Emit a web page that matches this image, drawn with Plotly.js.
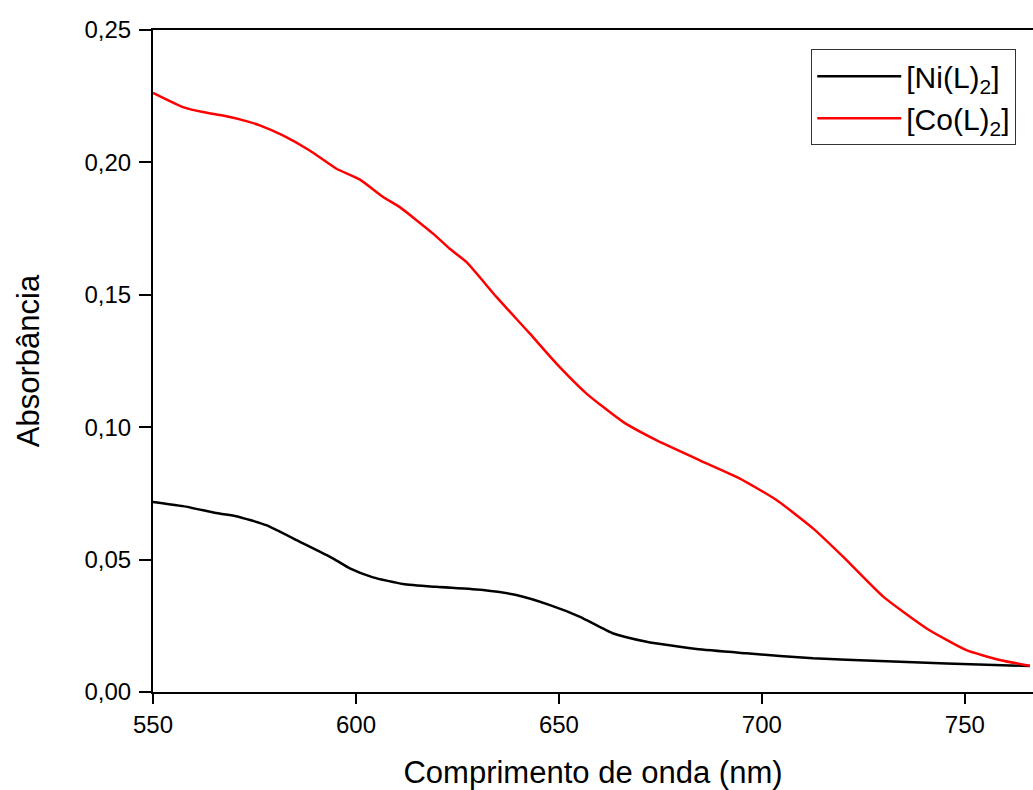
<!DOCTYPE html>
<html>
<head>
<meta charset="utf-8">
<script src="https://cdn.plot.ly/plotly-3.0.1.min.js"></script>
<style>html,body{margin:0;padding:0;background:#fff;}#chart{width:1033px;height:790px;}</style>
</head>
<body>
<div id="chart"></div>
<script>
// Wavelength (nm) and absorbance values
var coWavelength = [550, 557.4, 562.3, 568.1, 573, 576.3, 582, 588.6, 595.2, 601, 606.7, 610.8, 619, 623.1, 627.2, 634.6, 642.8, 649.4, 656.8, 665.8, 674, 684.7, 694.6, 703.6, 712.6, 720, 729.9, 740.6, 750.4, 758.6, 766];
var coAbs = [0.2263, 0.2209, 0.2190, 0.2174, 0.2156, 0.2140, 0.2102, 0.2045, 0.1976, 0.1935, 0.1869, 0.1831, 0.1731, 0.1674, 0.1624, 0.1492, 0.1354, 0.1240, 0.1127, 0.1020, 0.0951, 0.0875, 0.0806, 0.0725, 0.0618, 0.0511, 0.0360, 0.0240, 0.0158, 0.0121, 0.0099];

var niWavelength = [550, 557.4, 566.4, 570.5, 577.9, 586.2, 594.4, 598.5, 604.2, 611.6, 619.8, 631.3, 639.5, 647.8, 655.2, 663.4, 671.6, 683.9, 696.2, 712.6, 729.1, 745.5, 766];
var niAbs = [0.0718, 0.0702, 0.0674, 0.0664, 0.0630, 0.0567, 0.0504, 0.0467, 0.0433, 0.0408, 0.0397, 0.0385, 0.0366, 0.0328, 0.0284, 0.0221, 0.0190, 0.0162, 0.0146, 0.0127, 0.0117, 0.0108, 0.0098];

var seriesNames = ['[Ni(L)<sub>2</sub>]', '[Co(L)<sub>2</sub>]'];
var xTickVals = [550, 600, 650, 700, 750];
var yTickVals = [0, 0.05, 0.10, 0.15, 0.20, 0.25];

var traces = [
  {x: niWavelength, y: niAbs, mode: 'lines', name: seriesNames[0], line: {color: '#000000', width: 2.5, shape: 'spline', smoothing: 0.5}},
  {x: coWavelength, y: coAbs, mode: 'lines', name: seriesNames[1], line: {color: '#ff0000', width: 2.5, shape: 'spline', smoothing: 0.5}}
];

var font = 'Liberation Sans, Arial, sans-serif';
var layout = {
  width: 1033, height: 790,
  paper_bgcolor: '#ffffff', plot_bgcolor: '#ffffff',
  separators: ',.',
  margin: {l: 153, r: 0, t: 30, b: 98},
  showlegend: true,
  hovermode: false,
  font: {family: font, color: '#000000', size: 24},
  xaxis: {
    range: [550, 766.8], tickvals: xTickVals, ticktext: xTickVals.map(String),
    showgrid: false, zeroline: false, automargin: false,
    showline: true, linecolor: '#000', linewidth: 2, mirror: true,
    ticks: 'outside', ticklen: 10, tickwidth: 2, tickcolor: '#000',
    tickfont: {family: font, size: 24, color: '#000'},
    title: {text: 'Comprimento de onda (nm)', font: {family: font, size: 31, color: '#000'}, standoff: 25}
  },
  yaxis: {
    range: [0, 0.25], tickvals: yTickVals, tickformat: '.2f',
    showgrid: false, zeroline: false, automargin: false,
    showline: true, linecolor: '#000', linewidth: 2, mirror: false,
    ticks: 'outside', ticklen: 12, tickwidth: 2, tickcolor: '#000',
    tickfont: {family: font, size: 24, color: '#000'},
    ticklabelstandoff: 3,
    title: {text: 'Absorbância', font: {family: font, size: 31, color: '#000'}, standoff: 36}
  },
  legend: {
    x: 0.748, y: 0.971, xanchor: 'left', yanchor: 'top',
    bgcolor: '#ffffff', bordercolor: '#333', borderwidth: 1,
    font: {family: font, size: 30, color: '#000'},
    itemwidth: 84,
    tracegroupgap: 4
  }
};

Plotly.newPlot('chart', traces, layout, {staticPlot: true, displayModeBar: false});
</script>
</body>
</html>
